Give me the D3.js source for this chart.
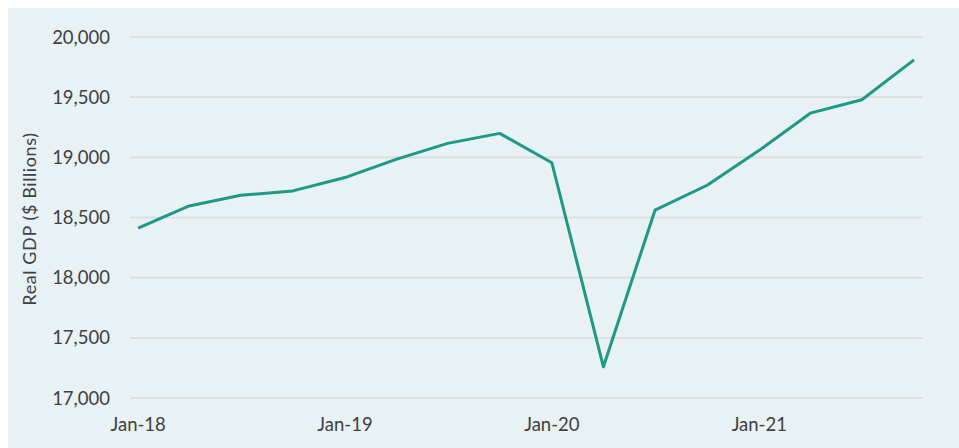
<!DOCTYPE html>
<html>
<head>
<meta charset="utf-8">
<script src="https://cdn.jsdelivr.net/npm/d3@7"></script>
<style>
  body { margin: 0; background: #fff; }
  svg { display: block; }
</style>
</head>
<body>
<script>
// quarterly real GDP, $ billions
var quarters = ['2018-01-01', '2018-04-01', '2018-07-01', '2018-10-01',
                '2019-01-01', '2019-04-01', '2019-07-01', '2019-10-01',
                '2020-01-01', '2020-04-01', '2020-07-01', '2020-10-01',
                '2021-01-01', '2021-04-01', '2021-07-01', '2021-10-01'];
var gdp = [18411, 18596, 18685, 18721, 18832, 18983, 19116, 19199,
           18955, 17259, 18561, 18768, 19058, 19367, 19478, 19810];
var yTicks = [17000, 17500, 18000, 18500, 19000, 19500, 20000];
var xTicks = ['2018-01-01', '2019-01-01', '2020-01-01', '2021-01-01'];

var width = 959, height = 448;
var parse = d3.timeParse('%Y-%m-%d');

var svg = d3.select('body')
    .append('svg')
    .attr('width', width)
    .attr('height', height);

svg.append('rect')
    .attr('x', 8)
    .attr('y', 8)
    .attr('width', width - 8)
    .attr('height', height - 8)
    .attr('fill', '#e8f1f4');

var x = d3.scaleTime()
    .domain([parse('2019-01-01'), parse('2021-10-01')])
    .range([345, 914]);

var y = d3.scaleLinear()
    .domain([17000, 20000])
    .range([398, 37]);

var plotLeft = 130, plotRight = 923;

// gridlines
svg.append('g')
    .selectAll('line')
    .data(yTicks)
    .enter()
    .append('line')
    .attr('x1', plotLeft)
    .attr('x2', plotRight)
    .attr('y1', function(d){ return y(d); })
    .attr('y2', function(d){ return y(d); })
    .attr('stroke', '#d9dcdd')
    .attr('stroke-width', 1.6);

// y tick labels
var fmt = d3.format(',');
svg.append('g')
    .selectAll('text')
    .data(yTicks)
    .enter()
    .append('text')
    .attr('x', 110)
    .attr('y', function(d){ return y(d); })
    .attr('dy', '0.36em')
    .attr('text-anchor', 'end')
    .attr('font-family', 'Lato, sans-serif')
    .attr('font-size', 18.5)
    .attr('fill', '#404040')
    .text(function(d){ return fmt(d); });

// x tick labels
var fmtX = d3.timeFormat('%b-%y');
svg.append('g')
    .selectAll('text')
    .data(xTicks.map(parse))
    .enter()
    .append('text')
    .attr('x', function(d){ return x(d); })
    .attr('y', 431)
    .attr('text-anchor', 'middle')
    .attr('font-family', 'Lato, sans-serif')
    .attr('font-size', 18.5)
    .attr('fill', '#404040')
    .text(function(d){ return fmtX(d); });

// axis title
svg.append('text')
    .attr('transform', 'translate(35.5,219) rotate(-90)')
    .attr('text-anchor', 'middle')
    .attr('font-family', 'Lato, sans-serif')
    .attr('font-size', 18)
    .attr('letter-spacing', 0.6)
    .attr('fill', '#404040')
    .text('Real GDP ($ Billions)');

// line
var points = quarters.map(function(q, i){ return { date: parse(q), value: gdp[i] }; });
var line = d3.line()
    .x(function(d){ return x(d.date); })
    .y(function(d){ return y(d.value); });

svg.append('path')
    .datum(points)
    .attr('d', line)
    .attr('fill', 'none')
    .attr('stroke', '#1e9985')
    .attr('stroke-width', 3)
    .attr('stroke-linejoin', 'round');
</script>
</body>
</html>
